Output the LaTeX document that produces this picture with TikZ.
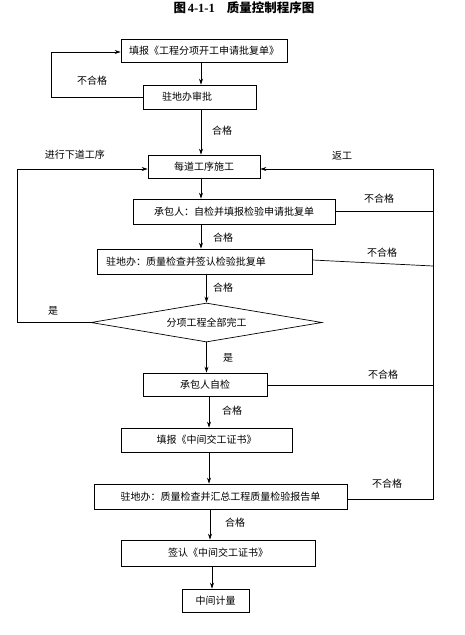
\documentclass[tikz,border=0pt]{standalone}
\usepackage{fontspec}
\newfontfamily\cjk{Noto Sans CJK SC}
\newfontfamily\tnr{Liberation Serif}
\usetikzlibrary{arrows.meta,shapes.geometric}
\begin{document}
\begin{tikzpicture}[x=1pt,y=-1pt,
  box/.style={draw,line width=0.7pt,inner sep=0pt,font=\cjk\fontsize{10}{12}\selectfont},
  lbl/.style={inner sep=0pt,font=\cjk\fontsize{10}{12}\selectfont},
  arr/.style={line width=0.7pt,-{Stealth[length=6pt,width=4pt]}},
  ln/.style={line width=0.7pt}]
\useasboundingbox (0,0) rectangle (465,635);
% title
\node[inner sep=0pt] (title) at (244,8) {\bfseries{\cjk\fontsize{12.5}{14}\selectfont 图}\,{\tnr\fontsize{12.5}{14}\selectfont 4-1-1}\hspace{12pt}{\cjk\fontsize{12.5}{14}\selectfont 质量控制程序图}};
% boxes
\node[box,minimum width=166pt,minimum height=23pt] (b1) at (204,50.5) {填报《工程分项开工申请批复单》};
\node[box,text width=75pt,inner xsep=19pt,minimum height=24pt,align=left] (b2) at (199.5,97) {驻地办审批};
\node[box,minimum width=112pt,minimum height=23pt] (b3) at (204,166.5) {每道工序施工};
\node[box,minimum width=202pt,minimum height=25pt] (b4) at (234,211.5) {承包人：自检并填报检验申请批复单};
\node[box,text width=197pt,inner xsep=9pt,minimum height=25pt,align=left] (b5) at (204.5,261.5) {驻地办：质量检查并签认检验批复单};
\node[draw,line width=0.7pt,diamond,shape aspect=5.9,minimum width=231pt,minimum height=39pt,inner sep=0pt,font=\cjk\fontsize{10}{12}\selectfont] (d) at (206.5,322.5) {分项工程全部完工};
\node[box,minimum width=124pt,minimum height=23pt] (b6) at (205,384.5) {承包人自检};
\node[box,minimum width=171pt,minimum height=24pt] (b7) at (206.5,440) {填报《中间交工证书》};
\node[box,minimum width=253pt,minimum height=25pt] (b8) at (220.5,496.5) {驻地办：质量检查并汇总工程质量检验报告单};
\node[box,minimum width=194pt,minimum height=26pt] (b9) at (218,553) {签认《中间交工证书》};
\node[box,minimum width=67pt,minimum height=23pt] (b10) at (215.5,600.5) {中间计量};
% helper coordinates
\coordinate (xa) at (201,0);
\coordinate (xb) at (206.5,0);
\coordinate (xd) at (209,0);
\coordinate (xe) at (210,0);
\coordinate (xf) at (212,0);
\coordinate (L1) at (51,52);
\coordinate (L2) at (17,169);
\coordinate (R) at (433,169);
\coordinate (R5) at (433,266);
% vertical arrows
\draw[arr] (b1.south -| xa) -- (b2.north -| xa);
\draw[arr] (b2.south -| xa) -- (b3.north -| xa);
\draw[arr] (b3.south -| xa) -- (b4.north -| xa);
\draw[arr] (b4.south -| xa) -- (b5.north -| xa);
\draw[arr] (b5.south -| xb) -- (d.north);
\draw[arr] (d.south) -- (b6.north -| xb);
\draw[arr] (b6.south -| xd) -- (b7.north -| xd);
\draw[arr] (b7.south -| xd) -- (b8.north -| xd);
\draw[arr] (b8.south -| xe) -- (b9.north -| xe);
\draw[arr] (b9.south -| xf) -- (b10.north -| xf);
% loops
\draw[arr] (b2.west) -| (L1) -- (L1 -| b1.west);
\draw[arr] (d.west) -| (L2) -- (L2 -| b3.west);
\draw[arr] ([yshift=-2.5pt]b8.east) -| (R) -- (R -| b3.east);
\draw[ln] (b4.east) -- (b4.east -| R);
\draw[ln] ([yshift=1.5pt]b5.east) -- (R5);
\draw[ln] ([yshift=-1pt]b6.east) -- ([yshift=-1pt]b6.east -| R);
% labels
\node[lbl] (t1) at (92,80.5) {不合格};
\node[lbl] (t2) at (222,131) {合格};
\node[lbl] (t3) at (75,154.5) {进行下道工序};
\node[lbl] (t4) at (342,155.5) {返工};
\node[lbl] (t5) at (379,199) {不合格};
\node[lbl] (t6) at (223,238) {合格};
\node[lbl] (t7) at (382,253) {不合格};
\node[lbl] (t8) at (223,288) {合格};
\node[lbl] (t9) at (53,311) {是};
\node[lbl] (t10) at (228,357.5) {是};
\node[lbl] (t11) at (383,374.5) {不合格};
\node[lbl] (t12) at (232,410.5) {合格};
\node[lbl] (t13) at (387,484) {不合格};
\node[lbl] (t14) at (235,523) {合格};
\end{tikzpicture}
\end{document}
